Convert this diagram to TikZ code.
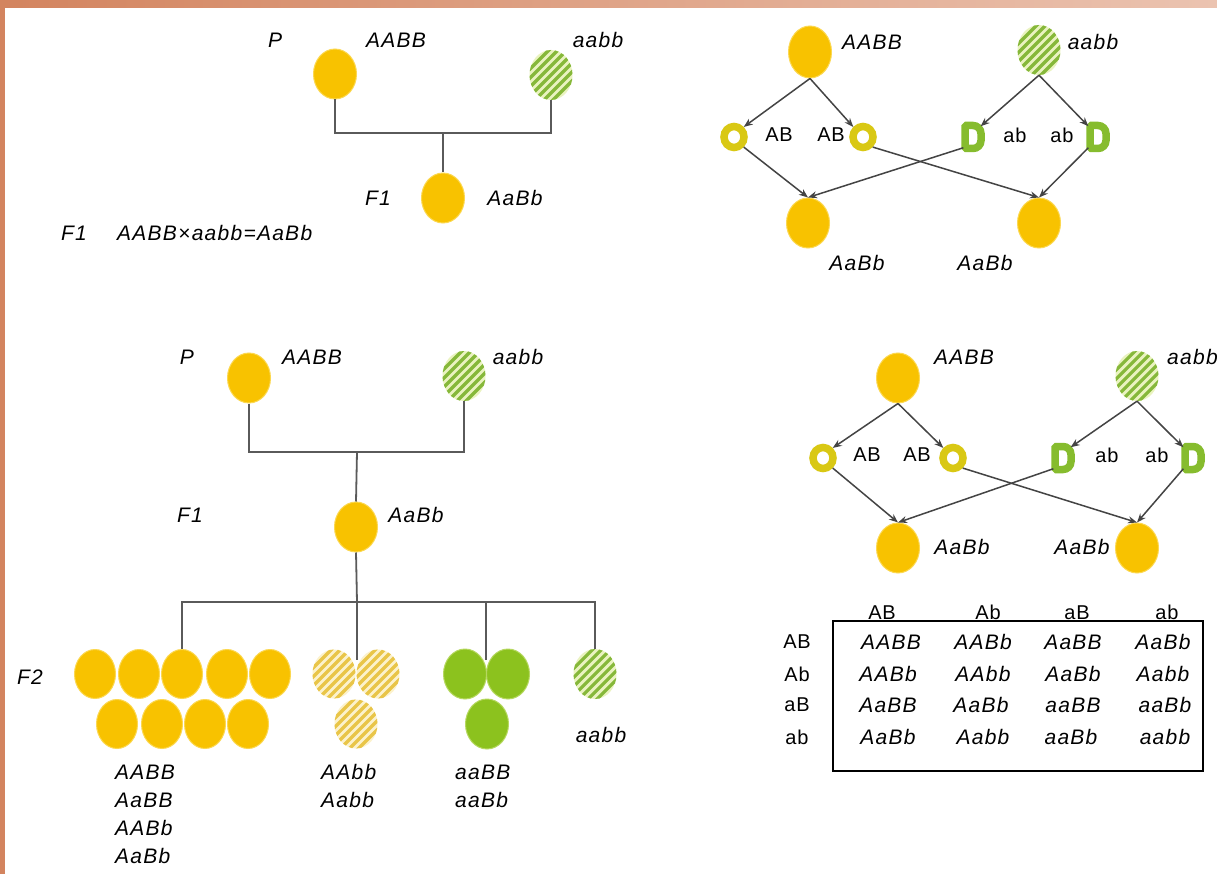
\documentclass[tikz,border=0pt]{standalone}
\usepackage{fontspec}
\setmainfont{Liberation Sans}
\usetikzlibrary{arrows.meta,shapes.geometric}
\definecolor{yel}{HTML}{F8C200}
\definecolor{yelglow}{HTML}{FCD850}
\definecolor{grn}{HTML}{8CC21E}
\definecolor{grnglow}{HTML}{B6D860}
\definecolor{hgstripe}{HTML}{86B83A}
\definecolor{hgbg}{HTML}{EAF3C0}
\definecolor{hystripe}{HTML}{E9C548}
\definecolor{hybg}{HTML}{FCF2CC}
\definecolor{ringY}{HTML}{D9C814}
\definecolor{ringG}{HTML}{86BC2E}
\definecolor{lineC}{HTML}{5A5A5A}
\definecolor{arrC}{HTML}{444444}
\definecolor{bandL}{HTML}{D3845F}
\definecolor{bandR}{HTML}{EBC3B0}
\newcommand{\Dring}[1]{\draw[ringG, fill=white, line width=7.5pt, shift={(#1.center)}, rounded corners=1.5pt] (-7,-11.5) -- (-7,11.5) [rounded corners=8pt] -- (9,11.5) -- (9,-11.5) [rounded corners=1.5pt] -- cycle;}
\begin{document}
\begin{tikzpicture}[x=1pt,y=-1pt,
  ball/.style={ellipse, inner sep=0pt, minimum width=43pt, minimum height=50pt, fill=yel, draw=yelglow, line width=1pt},
  sball/.style={ball, minimum width=41pt, minimum height=49pt},
  gball/.style={ball, fill=grn, draw=grnglow},
  hatchG/.style={ellipse, inner sep=0pt, minimum width=43pt, minimum height=50pt, fill=hgbg,
    path picture={\foreach \k in {-85,-76,...,5}{\draw[hgstripe, line width=3.2pt] ([xshift=\k pt, yshift=-40pt]path picture bounding box.center) -- ++(80pt,80pt);}}},
  hatchY/.style={ellipse, inner sep=0pt, minimum width=43pt, minimum height=49pt, fill=hybg,
    path picture={\foreach \k in {-85,-76,...,5}{\draw[hystripe, line width=3.2pt] ([xshift=\k pt, yshift=-40pt]path picture bounding box.center) -- ++(80pt,80pt);}}},
  yring/.style={ellipse, inner sep=0pt, minimum width=20pt, minimum height=21pt, draw=ringY, line width=7.5pt, fill=white},
  gring/.style={ellipse, inner sep=0pt, minimum width=24pt, minimum height=30pt},
  lab/.style={inner sep=0pt, font=\fontsize{21}{25}\selectfont\itshape\addfontfeature{LetterSpace=6}},
  ulab/.style={inner sep=0pt, font=\fontsize{20}{24}\selectfont\addfontfeature{LetterSpace=4}},
  conn/.style={lineC, line width=1.8pt},
  arr/.style={-{Stealth[length=9pt,width=7pt]}, arrC, line width=1.5pt}]
\useasboundingbox (0,0) rectangle (1217,874);
\fill[white] (0,0) rectangle (1217,874);
\shade[left color=bandL, right color=bandR] (0,0) rectangle (1217,8);
\fill[bandL] (0,0) rectangle (5,874);

% ---------- top left ----------
\node[lab] (tlP) at (275,40) {P};
\node[ball] (tl1) at (335,74) {};
\node[lab] (tl1l) at (396,40) {AABB};
\node[hatchG] (tl2) at (551,75) {};
\node[lab] (tl2l) at (598,40) {aabb};
\coordinate (tlj) at (443,133);
\node[ball] (tl3) at (443,198) {};
\node[lab] (tlF1) at (378,198) {F1};
\node[lab] (tl3l) at (515,198) {AaBb};
\draw[conn] (tl1.south) |- (tlj) -| (tl2.south);
\draw[conn] (tlj) -- (tl3.north);
\node[lab] (fF1) at (74,233) {F1};
\node[lab, anchor=west] (formula) at (117,233) {AABB×aabb=AaBb};

% ---------- top right ----------
\node[ball, minimum height=52pt] (trA) at (810,52) {};
\node[lab] (trAl) at (872,42) {AABB};
\node[hatchG] (trB) at (1039,50) {};
\node[lab] (trBl) at (1093,42) {aabb};
\node[yring] (trg1) at (734,137) {};
\node[yring] (trg2) at (863,137) {};
\node[gring] (trg3) at (972,137) {};
\node[gring] (trg4) at (1097,137) {};
\Dring{trg3}
\Dring{trg4}
\node[ulab] (trl1) at (779,135) {AB};
\node[ulab] (trl2) at (831,135) {AB};
\node[ulab] (trl3) at (1015,135) {ab};
\node[ulab] (trl4) at (1062,135) {ab};
\node[ball] (trC) at (808,223) {};
\node[ball] (trD) at (1039,223) {};
\node[lab] (trCl) at (857,263) {AaBb};
\node[lab] (trDl) at (985,263) {AaBb};
\draw[arr] (trA.south) -- (trg1.north east);
\draw[arr] (trA.south) -- (trg2.north west);
\draw[arr] (trB.south) -- (trg3.north east);
\draw[arr] (trB.south) -- (trg4.north west);
\draw[arr] (trg1.south east) -- (trC.north);
\draw[arr] (trg3.south west) -- (trC.north);
\draw[arr] (trg2.south east) -- (trD.north);
\draw[arr] (trg4.south west) -- (trD.north);

% ---------- bottom left ----------
\node[lab] (blP) at (187,357) {P};
\node[ball] (bl1) at (249,378) {};
\node[lab] (bl1l) at (312,357) {AABB};
\node[hatchG] (bl2) at (464,376) {};
\node[lab] (bl2l) at (518,357) {aabb};
\coordinate (blj) at (357,452);
\node[lab] (blF1) at (190,515) {F1};
\node[ball] (bl3) at (356,527) {};
\node[lab] (bl3l) at (416,515) {AaBb};
\draw[conn] (bl1.south) |- (blj) -| (bl2.south);
\draw[conn] (blj) -- (bl3.north);

\node[lab] (f2l) at (30,677) {F2};
\node[sball] (y1) at (95,674) {};
\node[sball] (y2) at (139,674) {};
\node[sball] (y3) at (182,674) {};
\node[sball] (y4) at (227,674) {};
\node[sball] (y5) at (270,674) {};
\node[sball] (y6) at (117,724) {};
\node[sball] (y7) at (162,724) {};
\node[sball] (y8) at (205,724) {};
\node[sball] (y9) at (248,724) {};
\node[hatchY] (h1) at (334,674) {};
\node[hatchY] (h2) at (378,674) {};
\node[hatchY] (h3) at (356,724) {};
\node[gball] (g1) at (465,674) {};
\node[gball] (g2) at (508,674) {};
\node[gball] (g3) at (487,724) {};
\node[hatchG] (s1) at (595,674) {};
\coordinate (f2j) at (357,602);
\coordinate (hj) at (357,660);
\coordinate (gj) at (486,660);
\draw[conn] (bl3.south) -- (f2j);
\draw[conn] (f2j) -| (y3.north);
\draw[conn] (f2j) -- (hj);
\draw[conn] (f2j) -| (gj);
\draw[conn] (f2j) -| (s1.north);
\node[lab, anchor=west] (ly1) at (115,772) {AABB};
\node[lab, anchor=west] (ly2) at (115,800) {AaBB};
\node[lab, anchor=west] (ly3) at (115,828) {AABb};
\node[lab, anchor=west] (ly4) at (115,856) {AaBb};
\node[lab, anchor=west] (lh1) at (321,772) {AAbb};
\node[lab, anchor=west] (lh2) at (321,800) {Aabb};
\node[lab, anchor=west] (lg1) at (455,772) {aaBB};
\node[lab, anchor=west] (lg2) at (455,800) {aaBb};
\node[lab] (ls1) at (601,735) {aabb};

% ---------- bottom right ----------
\node[ball] (brA) at (898,378) {};
\node[lab] (brAl) at (964,357) {AABB};
\node[hatchG] (brB) at (1137,376) {};
\node[lab, anchor=west] (brBl) at (1167,357) {aabb};
\node[yring] (brg1) at (823,458) {};
\node[yring] (brg2) at (953,458) {};
\node[gring] (brg3) at (1062,458) {};
\node[gring] (brg4) at (1192,458) {};
\Dring{brg3}
\Dring{brg4}
\node[ulab] (brl1) at (867,455) {AB};
\node[ulab] (brl2) at (917,455) {AB};
\node[ulab] (brl3) at (1107,455) {ab};
\node[ulab] (brl4) at (1157,455) {ab};
\node[ball] (brC) at (898,548) {};
\node[ball] (brD) at (1137,548) {};
\node[lab] (brCl) at (962,547) {AaBb};
\node[lab] (brDl) at (1082,547) {AaBb};
\draw[arr] (brA.south) -- (brg1.north east);
\draw[arr] (brA.south) -- (brg2.north west);
\draw[arr] (brB.south) -- (brg3.north east);
\draw[arr] (brB.south) -- (brg4.north west);
\draw[arr] (brg1.south east) -- (brC.north);
\draw[arr] (brg3.south west) -- (brC.north);
\draw[arr] (brg2.south east) -- (brD.north);
\draw[arr] (brg4.south west) -- (brD.north);

% ---------- Punnett table ----------
\node[draw=black, line width=1.6pt, rectangle, inner sep=0pt, minimum width=370pt, minimum height=150pt] (tbl) at (1018,696) {};
\node[ulab, anchor=south] (c1) at (882,620) {AB};
\node[ulab, anchor=south] (c2) at (988,620) {Ab};
\node[ulab, anchor=south] (c3) at (1077,620) {aB};
\node[ulab, anchor=south] (c4) at (1167,620) {ab};
\node[ulab] (r1) at (797,642) {AB};
\node[ulab] (r2) at (797,674) {Ab};
\node[ulab] (r3) at (797,705) {aB};
\node[ulab] (r4) at (797,737) {ab};
\node[lab] (t11) at (891,642) {AABB};
\node[lab] (t12) at (983,642) {AABb};
\node[lab] (t13) at (1073,642) {AaBB};
\node[lab] (t14) at (1163,642) {AaBb};
\node[lab] (t21) at (888,674) {AABb};
\node[lab] (t22) at (983,674) {AAbb};
\node[lab] (t23) at (1073,674) {AaBb};
\node[lab] (t24) at (1163,674) {Aabb};
\node[lab] (t31) at (888,705) {AaBB};
\node[lab] (t32) at (981,705) {AaBb};
\node[lab] (t33) at (1073,705) {aaBB};
\node[lab] (t34) at (1165,705) {aaBb};
\node[lab] (t41) at (888,737) {AaBb};
\node[lab] (t42) at (983,737) {Aabb};
\node[lab] (t43) at (1071,737) {aaBb};
\node[lab] (t44) at (1165,737) {aabb};
\end{tikzpicture}
\end{document}
